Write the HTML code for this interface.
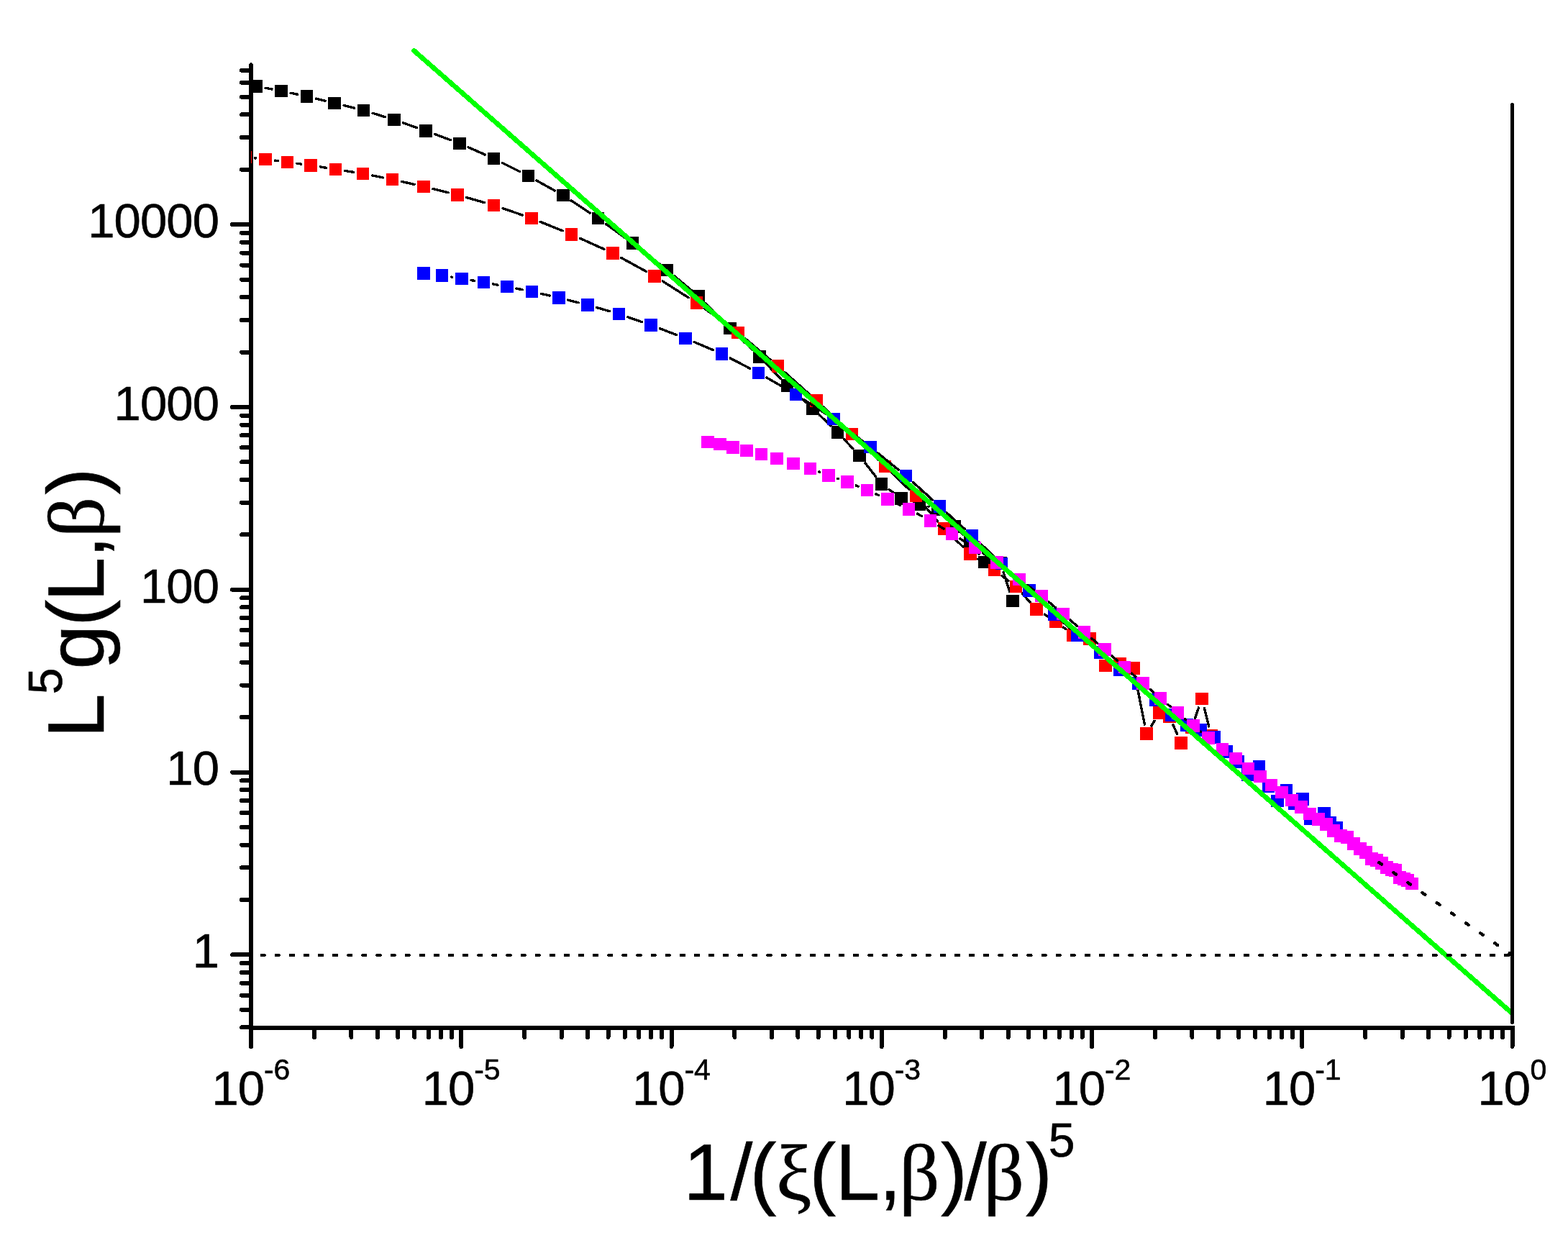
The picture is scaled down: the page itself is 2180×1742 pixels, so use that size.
<!DOCTYPE html><html><head><meta charset="utf-8"><title>plot</title><style>html,body{margin:0;padding:0;background:#fff;}svg{display:block;}</style></head><body><svg width="2180" height="1742" viewBox="0 0 2180 1742" shape-rendering="crispEdges"><defs><clipPath id="pc"><rect x="349" y="0" width="1773.5" height="1429"/></clipPath></defs><rect width="2180" height="1742" fill="#fff"/><g stroke="#000" stroke-width="6" stroke-linecap="round" fill="none"><line x1="349" y1="90.4" x2="349" y2="1429"/><line x1="346" y1="1429" x2="2105.5" y2="1429" stroke-linecap="butt"/><line x1="346" y1="1327.4" x2="323" y2="1327.4"/><line x1="346" y1="1073.6" x2="323" y2="1073.6"/><line x1="346" y1="819.8" x2="323" y2="819.8"/><line x1="346" y1="566" x2="323" y2="566"/><line x1="346" y1="312.2" x2="323" y2="312.2"/><line x1="346" y1="1428.4" x2="336" y2="1428.4"/><line x1="346" y1="1403.8" x2="336" y2="1403.8"/><line x1="346" y1="1383.71" x2="336" y2="1383.71"/><line x1="346" y1="1366.71" x2="336" y2="1366.71"/><line x1="346" y1="1352" x2="336" y2="1352"/><line x1="346" y1="1339.01" x2="336" y2="1339.01"/><line x1="346" y1="1251" x2="336" y2="1251"/><line x1="346" y1="1206.31" x2="336" y2="1206.31"/><line x1="346" y1="1174.6" x2="336" y2="1174.6"/><line x1="346" y1="1150" x2="336" y2="1150"/><line x1="346" y1="1129.91" x2="336" y2="1129.91"/><line x1="346" y1="1112.91" x2="336" y2="1112.91"/><line x1="346" y1="1098.2" x2="336" y2="1098.2"/><line x1="346" y1="1085.21" x2="336" y2="1085.21"/><line x1="346" y1="997.2" x2="336" y2="997.2"/><line x1="346" y1="952.51" x2="336" y2="952.51"/><line x1="346" y1="920.8" x2="336" y2="920.8"/><line x1="346" y1="896.2" x2="336" y2="896.2"/><line x1="346" y1="876.11" x2="336" y2="876.11"/><line x1="346" y1="859.11" x2="336" y2="859.11"/><line x1="346" y1="844.4" x2="336" y2="844.4"/><line x1="346" y1="831.41" x2="336" y2="831.41"/><line x1="346" y1="743.4" x2="336" y2="743.4"/><line x1="346" y1="698.71" x2="336" y2="698.71"/><line x1="346" y1="667" x2="336" y2="667"/><line x1="346" y1="642.4" x2="336" y2="642.4"/><line x1="346" y1="622.31" x2="336" y2="622.31"/><line x1="346" y1="605.31" x2="336" y2="605.31"/><line x1="346" y1="590.6" x2="336" y2="590.6"/><line x1="346" y1="577.61" x2="336" y2="577.61"/><line x1="346" y1="489.6" x2="336" y2="489.6"/><line x1="346" y1="444.91" x2="336" y2="444.91"/><line x1="346" y1="413.2" x2="336" y2="413.2"/><line x1="346" y1="388.6" x2="336" y2="388.6"/><line x1="346" y1="368.51" x2="336" y2="368.51"/><line x1="346" y1="351.51" x2="336" y2="351.51"/><line x1="346" y1="336.8" x2="336" y2="336.8"/><line x1="346" y1="323.81" x2="336" y2="323.81"/><line x1="346" y1="235.8" x2="336" y2="235.8"/><line x1="346" y1="191.11" x2="336" y2="191.11"/><line x1="346" y1="159.4" x2="336" y2="159.4"/><line x1="346" y1="134.8" x2="336" y2="134.8"/><line x1="346" y1="114.71" x2="336" y2="114.71"/><line x1="346" y1="97.71" x2="336" y2="97.71"/><line x1="349" y1="1429" x2="349" y2="1455"/><line x1="641.25" y1="1429" x2="641.25" y2="1455"/><line x1="933.5" y1="1429" x2="933.5" y2="1455"/><line x1="1225.75" y1="1429" x2="1225.75" y2="1455"/><line x1="1518" y1="1429" x2="1518" y2="1455"/><line x1="1810.25" y1="1429" x2="1810.25" y2="1455"/><line x1="2102.5" y1="1429" x2="2102.5" y2="1455"/><line x1="436.98" y1="1432" x2="436.98" y2="1442"/><line x1="488.44" y1="1432" x2="488.44" y2="1442"/><line x1="524.95" y1="1432" x2="524.95" y2="1442"/><line x1="553.27" y1="1432" x2="553.27" y2="1442"/><line x1="576.41" y1="1432" x2="576.41" y2="1442"/><line x1="595.98" y1="1432" x2="595.98" y2="1442"/><line x1="612.93" y1="1432" x2="612.93" y2="1442"/><line x1="627.88" y1="1432" x2="627.88" y2="1442"/><line x1="729.23" y1="1432" x2="729.23" y2="1442"/><line x1="780.69" y1="1432" x2="780.69" y2="1442"/><line x1="817.2" y1="1432" x2="817.2" y2="1442"/><line x1="845.52" y1="1432" x2="845.52" y2="1442"/><line x1="868.66" y1="1432" x2="868.66" y2="1442"/><line x1="888.23" y1="1432" x2="888.23" y2="1442"/><line x1="905.18" y1="1432" x2="905.18" y2="1442"/><line x1="920.13" y1="1432" x2="920.13" y2="1442"/><line x1="1021.48" y1="1432" x2="1021.48" y2="1442"/><line x1="1072.94" y1="1432" x2="1072.94" y2="1442"/><line x1="1109.45" y1="1432" x2="1109.45" y2="1442"/><line x1="1137.77" y1="1432" x2="1137.77" y2="1442"/><line x1="1160.91" y1="1432" x2="1160.91" y2="1442"/><line x1="1180.48" y1="1432" x2="1180.48" y2="1442"/><line x1="1197.43" y1="1432" x2="1197.43" y2="1442"/><line x1="1212.38" y1="1432" x2="1212.38" y2="1442"/><line x1="1313.73" y1="1432" x2="1313.73" y2="1442"/><line x1="1365.19" y1="1432" x2="1365.19" y2="1442"/><line x1="1401.7" y1="1432" x2="1401.7" y2="1442"/><line x1="1430.02" y1="1432" x2="1430.02" y2="1442"/><line x1="1453.16" y1="1432" x2="1453.16" y2="1442"/><line x1="1472.73" y1="1432" x2="1472.73" y2="1442"/><line x1="1489.68" y1="1432" x2="1489.68" y2="1442"/><line x1="1504.63" y1="1432" x2="1504.63" y2="1442"/><line x1="1605.98" y1="1432" x2="1605.98" y2="1442"/><line x1="1657.44" y1="1432" x2="1657.44" y2="1442"/><line x1="1693.95" y1="1432" x2="1693.95" y2="1442"/><line x1="1722.27" y1="1432" x2="1722.27" y2="1442"/><line x1="1745.41" y1="1432" x2="1745.41" y2="1442"/><line x1="1764.98" y1="1432" x2="1764.98" y2="1442"/><line x1="1781.93" y1="1432" x2="1781.93" y2="1442"/><line x1="1796.88" y1="1432" x2="1796.88" y2="1442"/><line x1="1898.23" y1="1432" x2="1898.23" y2="1442"/><line x1="1949.69" y1="1432" x2="1949.69" y2="1442"/><line x1="1986.2" y1="1432" x2="1986.2" y2="1442"/><line x1="2014.52" y1="1432" x2="2014.52" y2="1442"/><line x1="2037.66" y1="1432" x2="2037.66" y2="1442"/><line x1="2057.23" y1="1432" x2="2057.23" y2="1442"/><line x1="2074.18" y1="1432" x2="2074.18" y2="1442"/><line x1="2089.13" y1="1432" x2="2089.13" y2="1442"/></g><g clip-path="url(#pc)"><path d="M369.18 122.34L377.92 123.96M404.01 129.18L413.49 131.22M439.42 137.15L452.18 140.25M478.01 146.6L492.59 150.2M518.21 157.32L535.29 162.58M560.55 170.9L579.35 177.5M604.37 186.53L626.53 194.77M651.16 204.78L674.34 215.02M698.38 226.38L722.52 238.52M746.02 250.97L771.28 265.03M794.01 278.81L820.39 296.19M842.29 311.28L868.71 330.32M890.01 346.25L917.09 367.25M937.79 383.94L961.31 403.66M980.84 421.67L1005.66 446.83M1024.57 465.54L1046.43 486.66M1065.2 505.51L1085.2 526.39M1104.28 544.91L1120.12 559.19M1139.63 577.28L1154.87 591.82M1173.6 610.7L1185.9 623.8M1203.15 644.01L1217.35 662.29M1236.22 680.67L1242.28 685.13M1290.82 704.35L1291.18 704.45M1313.2 717.6L1317.8 722.4M1336.77 741.02L1339.23 743.28M1356.32 763.41L1360.98 770.49M1395.11 795.65L1403.89 822.65" stroke="#000" stroke-width="3.4" stroke-linecap="round" fill="none"/><path d="M347.3 111.1h17.6v17.6h-17.6zM382.2 117.6h17.6v17.6h-17.6zM417.7 125.2h17.6v17.6h-17.6zM456.3 134.6h17.6v17.6h-17.6zM496.7 144.6h17.6v17.6h-17.6zM539.2 157.7h17.6v17.6h-17.6zM583.1 173.1h17.6v17.6h-17.6zM630.2 190.6h17.6v17.6h-17.6zM677.7 211.6h17.6v17.6h-17.6zM725.6 235.7h17.6v17.6h-17.6zM774.1 262.7h17.6v17.6h-17.6zM822.7 294.7h17.6v17.6h-17.6zM870.7 329.3h17.6v17.6h-17.6zM918.8 366.6h17.6v17.6h-17.6zM962.7 403.4h17.6v17.6h-17.6zM1006.2 447.5h17.6v17.6h-17.6zM1047.2 487.1h17.6v17.6h-17.6zM1085.6 527.2h17.6v17.6h-17.6zM1121.2 559.3h17.6v17.6h-17.6zM1155.7 592.2h17.6v17.6h-17.6zM1186.2 624.7h17.6v17.6h-17.6zM1216.7 664h17.6v17.6h-17.6zM1244.2 684.2h17.6v17.6h-17.6zM1269.2 692h17.6v17.6h-17.6zM1295.2 699.2h17.6v17.6h-17.6zM1318.2 723.2h17.6v17.6h-17.6zM1340.2 743.5h17.6v17.6h-17.6zM1359.5 772.8h17.6v17.6h-17.6zM1382.2 774.2h17.6v17.6h-17.6zM1399.2 826.5h17.6v17.6h-17.6z" fill="#000"/><path d="M354.43 219.83L355.77 219.97M382.18 223.07L386.32 223.63M412.67 227.22L418.83 228.08M445.13 231.99L453.37 233.31M479.64 237.47L491.36 239.33M517.55 243.95L532.35 246.85M558.36 252.37L576.04 256.43M601.92 262.56L623.08 267.74M648.79 274.55L673.71 281.65M699.07 289.64L726.33 299.06M751.23 308.38L782.07 320.82M806.51 331.3L839.79 346.4M863.56 358.3L898.34 377.4M921.23 390.93L957.17 413.77M979.2 428.66L1015.2 454.54M1036.18 470.86L1071.22 500.34M1091.31 517.77L1124.99 547.93M1144.59 565.91L1174.81 594.29M1194 612.71L1221 639.19M1240.13 657.68L1263.87 680.32M1282.15 699.6L1303.75 724.8M1322.01 744.09L1339.29 760.61M1359.93 777.24L1371.37 784.96M1392.95 800.49L1401.85 807.31M1421.32 825.26L1432.08 837.14M1452.23 854.12L1456.57 856.88M1478.3 872.16L1481.5 874.64M1521.74 899.46L1530.26 913.94M1578.58 942.05L1591.42 1007.15M1600.96 1008.87L1605.04 1002.23M1631.12 1007.99L1636.68 1020.71M1661.44 998.36L1666.56 983.94M1674.26 984.29L1680.74 1009.91" stroke="#000" stroke-width="3.4" stroke-linecap="round" fill="none"/><path d="M332.4 209.7h17.6v17.6h-17.6zM360.2 212.5h17.6v17.6h-17.6zM390.7 216.6h17.6v17.6h-17.6zM423.2 221.1h17.6v17.6h-17.6zM457.7 226.6h17.6v17.6h-17.6zM495.7 232.6h17.6v17.6h-17.6zM536.6 240.6h17.6v17.6h-17.6zM580.2 250.6h17.6v17.6h-17.6zM627.2 262.1h17.6v17.6h-17.6zM677.7 276.5h17.6v17.6h-17.6zM730.1 294.6h17.6v17.6h-17.6zM785.6 317h17.6v17.6h-17.6zM843.1 343.1h17.6v17.6h-17.6zM901.2 375h17.6v17.6h-17.6zM959.6 412.1h17.6v17.6h-17.6zM1017.2 453.5h17.6v17.6h-17.6zM1072.6 500.1h17.6v17.6h-17.6zM1126.1 548h17.6v17.6h-17.6zM1175.7 594.6h17.6v17.6h-17.6zM1221.7 639.7h17.6v17.6h-17.6zM1264.7 680.7h17.6v17.6h-17.6zM1303.6 726.1h17.6v17.6h-17.6zM1340.1 761h17.6v17.6h-17.6zM1373.6 783.6h17.6v17.6h-17.6zM1403.6 806.6h17.6v17.6h-17.6zM1432.2 838.2h17.6v17.6h-17.6zM1459 855.2h17.6v17.6h-17.6zM1483.2 874h17.6v17.6h-17.6zM1506.2 879.2h17.6v17.6h-17.6zM1528.2 916.6h17.6v17.6h-17.6zM1548.2 914.1h17.6v17.6h-17.6zM1567.2 920.2h17.6v17.6h-17.6zM1585.2 1011.4h17.6v17.6h-17.6zM1603.2 982.1h17.6v17.6h-17.6zM1617 987h17.6v17.6h-17.6zM1633.2 1024.1h17.6v17.6h-17.6zM1648.2 1002.1h17.6v17.6h-17.6zM1662.2 962.6h17.6v17.6h-17.6zM1675.2 1014h17.6v17.6h-17.6z" fill="#f00"/><path d="M627.62 385.16L628.78 385.34M655.03 389.64L659.37 390.36M685.58 394.91L691.92 396.09M718.04 401.12L726.36 402.78M752.37 408.33L764.03 410.97M789.9 417.13L804.1 420.67M829.77 427.6L847.73 432.8M873.06 440.87L892.44 447.63M917.43 456.74L940.57 465.56M965.23 475.53L991.27 486.67M1015.3 498.03L1042.7 512.27M1066.02 525.04L1094.88 541.66M1117.56 555.53L1147.84 575.17M1169.55 590.49L1199.45 613.41M1220.34 629.86L1249.16 653.14M1269.36 670.43L1296.54 695.07M1316.26 712.92L1341.54 735.78M1361.07 753.83L1382.73 774.27M1401.95 792.65L1421.45 811.55M1440.65 829.95L1456.25 844.75M1475.78 862.8L1488.12 873.9M1508.64 890.78L1519.36 898.82M1539.92 915.66L1547.08 922.04M1567.72 938.77L1572.18 942.03M1592.5 959.1L1597.2 963.6M1616.46 981.94L1619.34 984.66M1756.15 1077.64L1757.85 1081.26M1815.92 1123.25L1817.08 1126.15" stroke="#000" stroke-width="3.4" stroke-linecap="round" fill="none"/><path d="M580.1 371.2h17.6v17.6h-17.6zM605.7 374.2h17.6v17.6h-17.6zM633.1 378.7h17.6v17.6h-17.6zM663.7 383.7h17.6v17.6h-17.6zM696.2 389.7h17.6v17.6h-17.6zM730.6 396.6h17.6v17.6h-17.6zM768.2 405.1h17.6v17.6h-17.6zM808.2 415.1h17.6v17.6h-17.6zM851.7 427.7h17.6v17.6h-17.6zM896.2 443.2h17.6v17.6h-17.6zM944.2 461.5h17.6v17.6h-17.6zM994.7 483.1h17.6v17.6h-17.6zM1045.7 509.6h17.6v17.6h-17.6zM1097.6 539.5h17.6v17.6h-17.6zM1150.2 573.6h17.6v17.6h-17.6zM1201.2 612.7h17.6v17.6h-17.6zM1250.7 652.7h17.6v17.6h-17.6zM1297.6 695.2h17.6v17.6h-17.6zM1342.6 735.9h17.6v17.6h-17.6zM1383.6 774.6h17.6v17.6h-17.6zM1422.2 812h17.6v17.6h-17.6zM1457.1 845.1h17.6v17.6h-17.6zM1489.2 874h17.6v17.6h-17.6zM1521.2 898h17.6v17.6h-17.6zM1548.2 922.1h17.6v17.6h-17.6zM1574.1 941.1h17.6v17.6h-17.6zM1598 964h17.6v17.6h-17.6zM1620.2 985h17.6v17.6h-17.6zM1641.2 999h17.6v17.6h-17.6zM1660.2 1006.2h17.6v17.6h-17.6zM1679.2 1016h17.6v17.6h-17.6zM1696.2 1036.1h17.6v17.6h-17.6zM1712.2 1050h17.6v17.6h-17.6zM1725.5 1068.4h17.6v17.6h-17.6zM1741.7 1056.8h17.6v17.6h-17.6zM1754.7 1084.5h17.6v17.6h-17.6zM1767.2 1104.7h17.6v17.6h-17.6zM1779.6 1089.7h17.6v17.6h-17.6zM1791.2 1108.4h17.6v17.6h-17.6zM1802.2 1102.1h17.6v17.6h-17.6zM1813.2 1129.7h17.6v17.6h-17.6zM1832.2 1122h17.6v17.6h-17.6zM1840.2 1135h17.6v17.6h-17.6zM1849.2 1142.2h17.6v17.6h-17.6z" fill="#00f"/><path d="M1138.86 656.04L1139.44 656.26M1164.47 665.24L1165.43 665.56M1190.27 675.03L1193.23 676.27M1217.67 686.76L1221.73 688.54M1245.91 699.62L1251.49 702.28M1275.27 714.2L1281.73 717.6M1304.86 730.72L1312.04 735.08M1334.78 748.88L1344.12 754.52M1366.53 768.84L1374.87 774.46M1396.52 789.9L1406.48 797.4M1427.79 813.32L1437.31 820.38M1458.17 836.87L1467.73 844.93M1487.99 862.16L1497.41 870.24M1517.67 887.47L1525.83 894.33M1545.9 911.79L1553.5 918.61M1573.43 936.24L1578.97 941.06M1599.08 958.48L1603.42 962.22M1623.72 979.41L1627.28 982.39M1647.68 999.46L1648.72 1000.34M1669.28 1017.21L1669.62 1017.49" stroke="#000" stroke-width="3.4" stroke-linecap="round" fill="none"/><path d="M975.2 605.7h17.6v17.6h-17.6zM992.1 608.6h17.6v17.6h-17.6zM1010.1 613.1h17.6v17.6h-17.6zM1029.1 617.7h17.6v17.6h-17.6zM1049.7 622.6h17.6v17.6h-17.6zM1071.2 628.6h17.6v17.6h-17.6zM1094.1 635.6h17.6v17.6h-17.6zM1117.6 642.6h17.6v17.6h-17.6zM1143.1 652.1h17.6v17.6h-17.6zM1169.2 661.1h17.6v17.6h-17.6zM1196.7 672.6h17.6v17.6h-17.6zM1225.1 685.1h17.6v17.6h-17.6zM1254.7 699.2h17.6v17.6h-17.6zM1284.7 715h17.6v17.6h-17.6zM1314.6 733.2h17.6v17.6h-17.6zM1346.7 752.6h17.6v17.6h-17.6zM1377.1 773.1h17.6v17.6h-17.6zM1408.3 796.6h17.6v17.6h-17.6zM1439.2 819.5h17.6v17.6h-17.6zM1469.1 844.7h17.6v17.6h-17.6zM1498.7 870.1h17.6v17.6h-17.6zM1527.2 894.1h17.6v17.6h-17.6zM1554.6 918.7h17.6v17.6h-17.6zM1580.2 941h17.6v17.6h-17.6zM1604.7 962.1h17.6v17.6h-17.6zM1628.7 982.1h17.6v17.6h-17.6zM1650.1 1000.1h17.6v17.6h-17.6zM1671.2 1017h17.6v17.6h-17.6zM1690.7 1033h17.6v17.6h-17.6zM1709.2 1045.6h17.6v17.6h-17.6zM1726.7 1059.8h17.6v17.6h-17.6zM1743.2 1070.5h17.6v17.6h-17.6zM1758.6 1082.7h17.6v17.6h-17.6zM1773.2 1092.7h17.6v17.6h-17.6zM1787.2 1103.6h17.6v17.6h-17.6zM1800.2 1113.1h17.6v17.6h-17.6zM1812.2 1122.8h17.6v17.6h-17.6zM1824.2 1130.1h17.6v17.6h-17.6zM1835.2 1137.1h17.6v17.6h-17.6zM1845.1 1146.1h17.6v17.6h-17.6zM1855.1 1153.2h17.6v17.6h-17.6zM1864.2 1155.4h17.6v17.6h-17.6zM1873.1 1164.3h17.6v17.6h-17.6zM1882.1 1171.4h17.6v17.6h-17.6zM1890 1176.4h17.6v17.6h-17.6zM1898.1 1185.3h17.6v17.6h-17.6zM1905 1187.3h17.6v17.6h-17.6zM1912.1 1191.4h17.6v17.6h-17.6zM1919 1197.4h17.6v17.6h-17.6zM1926.1 1200.3h17.6v17.6h-17.6zM1931.1 1201.3h17.6v17.6h-17.6zM1937.1 1211.4h17.6v17.6h-17.6zM1943 1213.3h17.6v17.6h-17.6zM1948 1215.3h17.6v17.6h-17.6zM1954.1 1219.7h17.6v17.6h-17.6z" fill="#f0f"/></g><path d="M1917.11 1199.11L2102.25 1327.96" stroke="#000" stroke-width="4.4" stroke-linecap="round" stroke-dasharray="4.5 20.06" fill="none"/><line x1="575.5" y1="70.4" x2="2101" y2="1407.6" stroke="#00ff00" stroke-width="6.8" stroke-linecap="round"/><line x1="2102.5" y1="145.3" x2="2102.5" y2="1421.7" stroke="#000" stroke-width="5" stroke-linecap="round"/><line x1="363.75" y1="1328" x2="2098" y2="1328" stroke="#000" stroke-width="4.6" stroke-linecap="round" stroke-dasharray="3.8 16.31"/><g font-family="Liberation Sans, Arial, sans-serif" fill="#000" stroke="#000" stroke-width="0.6"><text x="267.75" y="1345.1" font-size="67">1</text><text x="231.35 267.75" y="1091.3" font-size="67">10</text><text x="194.95 231.35 267.75" y="837.5" font-size="67">100</text><text x="158.55 194.95 231.35 267.75" y="583.7" font-size="67">1000</text><text x="122.15 158.55 194.95 231.35 267.75" y="329.9" font-size="67">10000</text><text y="1536.25" font-size="67"><tspan x="294.45 330.85">10</tspan><tspan x="366.9 380.56" y="1500.6" font-size="41">-6</tspan></text><text y="1536.25" font-size="67"><tspan x="586.7 623.1">10</tspan><tspan x="659.15 672.81" y="1500.6" font-size="41">-5</tspan></text><text y="1536.25" font-size="67"><tspan x="878.95 915.35">10</tspan><tspan x="951.4 965.06" y="1500.6" font-size="41">-4</tspan></text><text y="1536.25" font-size="67"><tspan x="1171.2 1207.6">10</tspan><tspan x="1243.65 1257.31" y="1500.6" font-size="41">-3</tspan></text><text y="1536.25" font-size="67"><tspan x="1463.45 1499.85">10</tspan><tspan x="1535.9 1549.56" y="1500.6" font-size="41">-2</tspan></text><text y="1536.25" font-size="67"><tspan x="1755.7 1792.1">10</tspan><tspan x="1828.15 1841.81" y="1500.6" font-size="41">-1</tspan></text><text y="1536.25" font-size="67"><tspan x="2054.45 2090.85">10</tspan><tspan x="2127.4" y="1500.6" font-size="41">0</tspan></text><text y="1667.6" font-size="111"><tspan x="950.17 1015.58 1042.55">1/(</tspan><tspan x="1079.02" font-family="Liberation Serif, serif">ξ</tspan><tspan x="1125.35 1161.57 1222.18">(L,</tspan><tspan x="1249.99" font-family="Liberation Serif, serif">β</tspan><tspan x="1307.98 1340.83">)/</tspan><tspan x="1367.59" font-family="Liberation Serif, serif">β</tspan><tspan x="1426.08">)</tspan><tspan x="1457.86" y="1608.26" font-size="66">5</tspan></text><text transform="translate(143.9 1742) rotate(-90)" y="0" font-size="111"><tspan x="716.07">L</tspan><tspan x="776.81" y="-57.7" font-size="66">5</tspan><tspan y="0" x="811.48 871.25 905.87 966.18">g(L,</tspan><tspan x="994.89" font-family="Liberation Serif, serif">β</tspan><tspan x="1054.28">)</tspan></text></g></svg></body></html>
